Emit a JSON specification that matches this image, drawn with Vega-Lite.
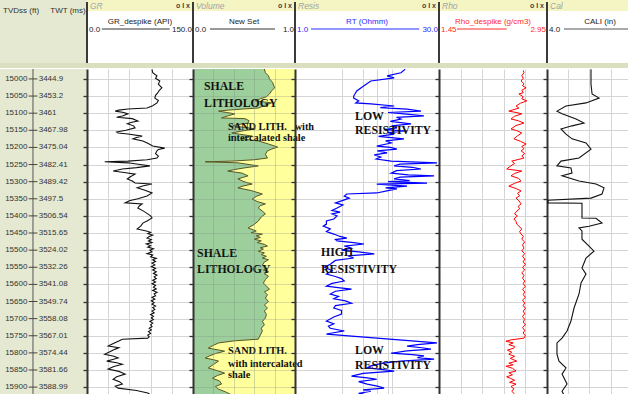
{
"$schema": "https://vega.github.io/schema/vega-lite/v6.json",
"padding": 0,
"background": "white",
"spacing": 0,
"config": {"view": {"stroke": null}, "font": "Liberation Sans", "axis": {"labels": false, "ticks": false, "domain": false, "grid": false}},
"datasets": {
"dt": [{"d":15000,"twt":"3444.9"},{"d":15050,"twt":"3453.2"},{"d":15100,"twt":"3461"},{"d":15150,"twt":"3467.98"},{"d":15200,"twt":"3475.04"},{"d":15250,"twt":"3482.41"},{"d":15300,"twt":"3489.42"},{"d":15350,"twt":"3497.5"},{"d":15400,"twt":"3506.54"},{"d":15450,"twt":"3515.65"},{"d":15500,"twt":"3524.02"},{"d":15550,"twt":"3532.26"},{"d":15600,"twt":"3541.08"},{"d":15650,"twt":"3549.74"},{"d":15700,"twt":"3558.08"},{"d":15750,"twt":"3567.01"},{"d":15800,"twt":"3574.44"},{"d":15850,"twt":"3581.66"},{"d":15900,"twt":"3588.99"}],
"gr": [{"d":14972,"v":92},{"d":14982,"v":93},{"d":14991,"v":99},{"d":14998,"v":97},{"d":15006,"v":103},{"d":15015,"v":101},{"d":15026,"v":106},{"d":15034,"v":102},{"d":15041,"v":100},{"d":15048,"v":97},{"d":15056,"v":96},{"d":15063,"v":101},{"d":15070,"v":99},{"d":15078,"v":93},{"d":15085,"v":85},{"d":15088,"v":58},{"d":15091,"v":45},{"d":15094,"v":40},{"d":15098,"v":52},{"d":15102,"v":58},{"d":15108,"v":50},{"d":15112,"v":42},{"d":15116,"v":64},{"d":15123,"v":72},{"d":15127,"v":62},{"d":15131,"v":57},{"d":15137,"v":66},{"d":15143,"v":68},{"d":15150,"v":55},{"d":15155,"v":42},{"d":15158,"v":44},{"d":15161,"v":58},{"d":15167,"v":78},{"d":15171,"v":70},{"d":15175,"v":65},{"d":15181,"v":79},{"d":15188,"v":86},{"d":15196,"v":93},{"d":15202,"v":110},{"d":15206,"v":101},{"d":15210,"v":99},{"d":15218,"v":97},{"d":15225,"v":101},{"d":15231,"v":99},{"d":15236,"v":85},{"d":15240,"v":58},{"d":15242,"v":25},{"d":15245,"v":58},{"d":15250,"v":75},{"d":15254,"v":89},{"d":15259,"v":70},{"d":15263,"v":50},{"d":15269,"v":37},{"d":15274,"v":55},{"d":15278,"v":68},{"d":15285,"v":62},{"d":15292,"v":57},{"d":15298,"v":64},{"d":15304,"v":68},{"d":15307,"v":92},{"d":15312,"v":80},{"d":15318,"v":71},{"d":15325,"v":82},{"d":15333,"v":92},{"d":15342,"v":85},{"d":15350,"v":72},{"d":15356,"v":60},{"d":15362,"v":54},{"d":15365,"v":78},{"d":15371,"v":74},{"d":15377,"v":72},{"d":15386,"v":80},{"d":15394,"v":86},{"d":15400,"v":90},{"d":15406,"v":92},{"d":15415,"v":85},{"d":15421,"v":79},{"d":15430,"v":76},{"d":15438,"v":71},{"d":15444,"v":84},{"d":15448,"v":90},{"d":15452,"v":86},{"d":15456,"v":93},{"d":15460,"v":88},{"d":15465,"v":85},{"d":15469,"v":91},{"d":15473,"v":87},{"d":15478,"v":92},{"d":15482,"v":84},{"d":15487,"v":90},{"d":15491,"v":86},{"d":15496,"v":94},{"d":15500,"v":89},{"d":15505,"v":92},{"d":15510,"v":85},{"d":15514,"v":93},{"d":15519,"v":90},{"d":15524,"v":98},{"d":15528,"v":93},{"d":15533,"v":97},{"d":15538,"v":92},{"d":15543,"v":96},{"d":15548,"v":91},{"d":15553,"v":97},{"d":15558,"v":93},{"d":15563,"v":98},{"d":15568,"v":94},{"d":15573,"v":99},{"d":15578,"v":95},{"d":15583,"v":98},{"d":15588,"v":93},{"d":15593,"v":97},{"d":15598,"v":92},{"d":15603,"v":97},{"d":15608,"v":94},{"d":15613,"v":98},{"d":15618,"v":93},{"d":15623,"v":99},{"d":15628,"v":95},{"d":15633,"v":97},{"d":15638,"v":92},{"d":15643,"v":96},{"d":15648,"v":91},{"d":15653,"v":95},{"d":15658,"v":92},{"d":15663,"v":97},{"d":15668,"v":93},{"d":15673,"v":96},{"d":15678,"v":92},{"d":15683,"v":95},{"d":15688,"v":90},{"d":15693,"v":94},{"d":15698,"v":91},{"d":15703,"v":94},{"d":15708,"v":89},{"d":15713,"v":93},{"d":15718,"v":90},{"d":15723,"v":92},{"d":15728,"v":88},{"d":15733,"v":91},{"d":15738,"v":87},{"d":15743,"v":90},{"d":15748,"v":86},{"d":15753,"v":88},{"d":15757,"v":86},{"d":15760,"v":50},{"d":15765,"v":45},{"d":15772,"v":38},{"d":15780,"v":30},{"d":15785,"v":45},{"d":15789,"v":40},{"d":15796,"v":33},{"d":15804,"v":25},{"d":15810,"v":38},{"d":15815,"v":44},{"d":15820,"v":35},{"d":15824,"v":28},{"d":15829,"v":42},{"d":15833,"v":50},{"d":15840,"v":38},{"d":15847,"v":30},{"d":15854,"v":45},{"d":15862,"v":54},{"d":15870,"v":42},{"d":15877,"v":37},{"d":15884,"v":46},{"d":15891,"v":50},{"d":15897,"v":40},{"d":15903,"v":44},{"d":15910,"v":70},{"d":15917,"v":86},{"d":15923,"v":90}],
"vol": [{"d":14971,"v":0.70},{"d":14982,"v":0.71},{"d":14991,"v":0.74},{"d":15000,"v":0.75},{"d":15010,"v":0.78},{"d":15026,"v":0.80},{"d":15035,"v":0.77},{"d":15044,"v":0.75},{"d":15052,"v":0.72},{"d":15058,"v":0.66},{"d":15064,"v":0.61},{"d":15070,"v":0.77},{"d":15078,"v":0.70},{"d":15085,"v":0.64},{"d":15088,"v":0.48},{"d":15091,"v":0.35},{"d":15094,"v":0.25},{"d":15098,"v":0.33},{"d":15102,"v":0.41},{"d":15108,"v":0.34},{"d":15114,"v":0.28},{"d":15116,"v":0.51},{"d":15122,"v":0.55},{"d":15129,"v":0.54},{"d":15133,"v":0.45},{"d":15137,"v":0.39},{"d":15142,"v":0.52},{"d":15146,"v":0.61},{"d":15152,"v":0.48},{"d":15158,"v":0.38},{"d":15162,"v":0.47},{"d":15167,"v":0.58},{"d":15171,"v":0.52},{"d":15175,"v":0.48},{"d":15181,"v":0.64},{"d":15190,"v":0.74},{"d":15199,"v":0.83},{"d":15205,"v":0.77},{"d":15210,"v":0.73},{"d":15220,"v":0.71},{"d":15231,"v":0.73},{"d":15236,"v":0.60},{"d":15240,"v":0.38},{"d":15242,"v":0.12},{"d":15245,"v":0.44},{"d":15250,"v":0.55},{"d":15254,"v":0.64},{"d":15260,"v":0.50},{"d":15265,"v":0.40},{"d":15269,"v":0.34},{"d":15275,"v":0.48},{"d":15283,"v":0.54},{"d":15292,"v":0.44},{"d":15300,"v":0.50},{"d":15307,"v":0.58},{"d":15312,"v":0.50},{"d":15318,"v":0.44},{"d":15326,"v":0.57},{"d":15336,"v":0.68},{"d":15343,"v":0.62},{"d":15351,"v":0.58},{"d":15358,"v":0.63},{"d":15365,"v":0.71},{"d":15370,"v":0.66},{"d":15377,"v":0.64},{"d":15386,"v":0.68},{"d":15394,"v":0.71},{"d":15403,"v":0.67},{"d":15415,"v":0.64},{"d":15425,"v":0.60},{"d":15435,"v":0.54},{"d":15444,"v":0.62},{"d":15449,"v":0.57},{"d":15453,"v":0.68},{"d":15458,"v":0.62},{"d":15463,"v":0.66},{"d":15468,"v":0.60},{"d":15473,"v":0.67},{"d":15478,"v":0.63},{"d":15483,"v":0.70},{"d":15488,"v":0.73},{"d":15493,"v":0.66},{"d":15497,"v":0.69},{"d":15503,"v":0.64},{"d":15508,"v":0.70},{"d":15513,"v":0.67},{"d":15518,"v":0.72},{"d":15523,"v":0.68},{"d":15528,"v":0.74},{"d":15535,"v":0.70},{"d":15544,"v":0.68},{"d":15552,"v":0.72},{"d":15558,"v":0.69},{"d":15562,"v":0.74},{"d":15569,"v":0.70},{"d":15576,"v":0.74},{"d":15586,"v":0.71},{"d":15596,"v":0.69},{"d":15605,"v":0.72},{"d":15614,"v":0.75},{"d":15622,"v":0.70},{"d":15630,"v":0.73},{"d":15640,"v":0.71},{"d":15650,"v":0.74},{"d":15660,"v":0.70},{"d":15669,"v":0.73},{"d":15678,"v":0.70},{"d":15688,"v":0.72},{"d":15698,"v":0.71},{"d":15708,"v":0.68},{"d":15718,"v":0.70},{"d":15728,"v":0.67},{"d":15736,"v":0.68},{"d":15748,"v":0.66},{"d":15760,"v":0.64},{"d":15765,"v":0.40},{"d":15771,"v":0.25},{"d":15778,"v":0.20},{"d":15786,"v":0.15},{"d":15795,"v":0.31},{"d":15802,"v":0.22},{"d":15809,"v":0.16},{"d":15815,"v":0.12},{"d":15820,"v":0.20},{"d":15824,"v":0.25},{"d":15834,"v":0.20},{"d":15844,"v":0.15},{"d":15852,"v":0.24},{"d":15859,"v":0.31},{"d":15866,"v":0.24},{"d":15874,"v":0.19},{"d":15882,"v":0.26},{"d":15891,"v":0.28},{"d":15898,"v":0.22},{"d":15906,"v":0.25},{"d":15914,"v":0.32},{"d":15923,"v":0.38}],
"rt": [{"d":14972,"v":13.5},{"d":14982,"v":12.2},{"d":14991,"v":8.8},{"d":14997,"v":10.4},{"d":15006,"v":6.0},{"d":15020,"v":5.1},{"d":15035,"v":4.3},{"d":15050,"v":4.0},{"d":15056,"v":4.0},{"d":15064,"v":4.5},{"d":15070,"v":4.2},{"d":15073,"v":6.0},{"d":15079,"v":10.4},{"d":15084,"v":7.5},{"d":15088,"v":14.1},{"d":15094,"v":19.6},{"d":15098,"v":9.0},{"d":15102,"v":13.1},{"d":15108,"v":21.0},{"d":15112,"v":11.0},{"d":15117,"v":12.2},{"d":15124,"v":9.5},{"d":15131,"v":15.5},{"d":15137,"v":9.8},{"d":15143,"v":11.1},{"d":15148,"v":8.2},{"d":15152,"v":14.1},{"d":15157,"v":9.0},{"d":15161,"v":10.4},{"d":15168,"v":7.2},{"d":15175,"v":13.1},{"d":15181,"v":8.5},{"d":15187,"v":9.7},{"d":15196,"v":6.9},{"d":15200,"v":9.5},{"d":15205,"v":11.1},{"d":15210,"v":7.0},{"d":15216,"v":8.8},{"d":15222,"v":6.5},{"d":15228,"v":7.6},{"d":15234,"v":6.8},{"d":15240,"v":9.7},{"d":15245,"v":28.6},{"d":15249,"v":12.0},{"d":15254,"v":10.4},{"d":15258,"v":16.0},{"d":15263,"v":19.6},{"d":15268,"v":11.0},{"d":15275,"v":9.7},{"d":15280,"v":14.5},{"d":15283,"v":26.7},{"d":15287,"v":12.0},{"d":15292,"v":10.4},{"d":15297,"v":15.0},{"d":15300,"v":9.0},{"d":15304,"v":22.6},{"d":15307,"v":6.9},{"d":15313,"v":14.1},{"d":15318,"v":8.5},{"d":15321,"v":11.1},{"d":15326,"v":9.0},{"d":15333,"v":6.9},{"d":15336,"v":3.4},{"d":15342,"v":3.2},{"d":15348,"v":3.6},{"d":15356,"v":3.0},{"d":15362,"v":2.6},{"d":15368,"v":3.1},{"d":15377,"v":2.7},{"d":15384,"v":2.4},{"d":15389,"v":2.9},{"d":15394,"v":2.4},{"d":15400,"v":2.7},{"d":15409,"v":2.5},{"d":15415,"v":2.1},{"d":15424,"v":2.1},{"d":15430,"v":1.95},{"d":15438,"v":2.3},{"d":15446,"v":2.1},{"d":15453,"v":2.5},{"d":15460,"v":2.9},{"d":15465,"v":3.4},{"d":15469,"v":2.6},{"d":15473,"v":2.7},{"d":15478,"v":4.0},{"d":15482,"v":5.1},{"d":15488,"v":3.2},{"d":15494,"v":3.8},{"d":15500,"v":3.0},{"d":15505,"v":4.5},{"d":15511,"v":6.5},{"d":15517,"v":3.5},{"d":15523,"v":4.0},{"d":15530,"v":2.6},{"d":15541,"v":2.3},{"d":15550,"v":2.0},{"d":15560,"v":2.4},{"d":15570,"v":2.1},{"d":15577,"v":2.6},{"d":15583,"v":3.0},{"d":15590,"v":3.2},{"d":15597,"v":2.4},{"d":15605,"v":2.1},{"d":15610,"v":2.9},{"d":15614,"v":3.8},{"d":15620,"v":2.6},{"d":15628,"v":2.3},{"d":15635,"v":2.8},{"d":15642,"v":2.5},{"d":15648,"v":3.3},{"d":15655,"v":3.8},{"d":15662,"v":2.6},{"d":15669,"v":2.5},{"d":15676,"v":3.0},{"d":15687,"v":3.0},{"d":15695,"v":2.5},{"d":15707,"v":2.1},{"d":15715,"v":2.5},{"d":15722,"v":2.2},{"d":15728,"v":2.3},{"d":15736,"v":3.2},{"d":15742,"v":2.4},{"d":15745,"v":2.1},{"d":15771,"v":28.6},{"d":15776,"v":18.0},{"d":15780,"v":14.1},{"d":15785,"v":20.0},{"d":15789,"v":24.8},{"d":15794,"v":14.0},{"d":15801,"v":9.7},{"d":15805,"v":16.0},{"d":15809,"v":21.0},{"d":15814,"v":18.0},{"d":15818,"v":26.7},{"d":15824,"v":12.2},{"d":15830,"v":8.0},{"d":15838,"v":6.0},{"d":15844,"v":5.5},{"d":15849,"v":8.0},{"d":15853,"v":10.4},{"d":15860,"v":5.0},{"d":15868,"v":3.8},{"d":15873,"v":5.5},{"d":15877,"v":6.9},{"d":15884,"v":4.5},{"d":15891,"v":5.5},{"d":15897,"v":7.0},{"d":15903,"v":8.2},{"d":15908,"v":5.0},{"d":15912,"v":6.0},{"d":15918,"v":4.5},{"d":15923,"v":5.5}],
"rho": [{"d":14975,"v":2.62},{"d":14982,"v":2.63},{"d":14990,"v":2.60},{"d":14998,"v":2.62},{"d":15006,"v":2.59},{"d":15014,"v":2.63},{"d":15020,"v":2.61},{"d":15026,"v":2.66},{"d":15033,"v":2.60},{"d":15040,"v":2.62},{"d":15044,"v":2.56},{"d":15052,"v":2.62},{"d":15058,"v":2.60},{"d":15064,"v":2.67},{"d":15071,"v":2.58},{"d":15079,"v":2.52},{"d":15085,"v":2.56},{"d":15094,"v":2.42},{"d":15098,"v":2.52},{"d":15102,"v":2.60},{"d":15109,"v":2.50},{"d":15117,"v":2.45},{"d":15122,"v":2.55},{"d":15129,"v":2.63},{"d":15136,"v":2.52},{"d":15146,"v":2.45},{"d":15151,"v":2.53},{"d":15158,"v":2.60},{"d":15166,"v":2.54},{"d":15175,"v":2.49},{"d":15182,"v":2.58},{"d":15190,"v":2.66},{"d":15197,"v":2.60},{"d":15204,"v":2.63},{"d":15210,"v":2.59},{"d":15218,"v":2.64},{"d":15225,"v":2.60},{"d":15231,"v":2.63},{"d":15240,"v":2.46},{"d":15247,"v":2.50},{"d":15255,"v":2.44},{"d":15263,"v":2.39},{"d":15269,"v":2.60},{"d":15276,"v":2.50},{"d":15283,"v":2.45},{"d":15290,"v":2.55},{"d":15298,"v":2.59},{"d":15305,"v":2.50},{"d":15313,"v":2.42},{"d":15320,"v":2.52},{"d":15327,"v":2.59},{"d":15334,"v":2.54},{"d":15341,"v":2.57},{"d":15348,"v":2.52},{"d":15356,"v":2.56},{"d":15365,"v":2.59},{"d":15372,"v":2.55},{"d":15379,"v":2.57},{"d":15386,"v":2.53},{"d":15394,"v":2.50},{"d":15400,"v":2.54},{"d":15409,"v":2.49},{"d":15416,"v":2.52},{"d":15424,"v":2.53},{"d":15430,"v":2.56},{"d":15438,"v":2.60},{"d":15446,"v":2.57},{"d":15453,"v":2.59},{"d":15460,"v":2.62},{"d":15468,"v":2.60},{"d":15476,"v":2.64},{"d":15485,"v":2.61},{"d":15494,"v":2.63},{"d":15502,"v":2.60},{"d":15510,"v":2.64},{"d":15518,"v":2.61},{"d":15526,"v":2.64},{"d":15534,"v":2.62},{"d":15542,"v":2.65},{"d":15550,"v":2.61},{"d":15558,"v":2.64},{"d":15566,"v":2.60},{"d":15574,"v":2.63},{"d":15582,"v":2.61},{"d":15590,"v":2.64},{"d":15598,"v":2.62},{"d":15606,"v":2.65},{"d":15614,"v":2.61},{"d":15622,"v":2.64},{"d":15630,"v":2.62},{"d":15638,"v":2.65},{"d":15646,"v":2.61},{"d":15654,"v":2.64},{"d":15662,"v":2.62},{"d":15670,"v":2.65},{"d":15678,"v":2.62},{"d":15686,"v":2.64},{"d":15694,"v":2.61},{"d":15702,"v":2.64},{"d":15710,"v":2.62},{"d":15718,"v":2.65},{"d":15726,"v":2.61},{"d":15734,"v":2.64},{"d":15742,"v":2.62},{"d":15750,"v":2.65},{"d":15757,"v":2.63},{"d":15762,"v":2.45},{"d":15766,"v":2.38},{"d":15771,"v":2.48},{"d":15776,"v":2.42},{"d":15781,"v":2.50},{"d":15786,"v":2.49},{"d":15792,"v":2.40},{"d":15798,"v":2.46},{"d":15804,"v":2.42},{"d":15810,"v":2.50},{"d":15816,"v":2.44},{"d":15824,"v":2.53},{"d":15830,"v":2.42},{"d":15835,"v":2.48},{"d":15839,"v":2.38},{"d":15845,"v":2.47},{"d":15853,"v":2.52},{"d":15858,"v":2.42},{"d":15864,"v":2.47},{"d":15870,"v":2.39},{"d":15874,"v":2.44},{"d":15880,"v":2.50},{"d":15886,"v":2.43},{"d":15891,"v":2.52},{"d":15898,"v":2.45},{"d":15905,"v":2.49},{"d":15912,"v":2.46},{"d":15920,"v":2.50}],
"cal": [{"d":14972,"v":8.15},{"d":14982,"v":8.15},{"d":15015,"v":8.15},{"d":15044,"v":8.25},{"d":15056,"v":8.91},{"d":15070,"v":7.68},{"d":15079,"v":5.79},{"d":15094,"v":4.94},{"d":15102,"v":5.42},{"d":15117,"v":6.74},{"d":15129,"v":7.49},{"d":15137,"v":6.36},{"d":15146,"v":5.32},{"d":15161,"v":5.79},{"d":15175,"v":6.36},{"d":15187,"v":7.68},{"d":15205,"v":8.15},{"d":15231,"v":7.02},{"d":15240,"v":5.32},{"d":15254,"v":4.94},{"d":15260,"v":6.26},{"d":15275,"v":6.36},{"d":15283,"v":5.42},{"d":15298,"v":7.02},{"d":15307,"v":8.62},{"d":15318,"v":9.38},{"d":15336,"v":9.19},{"d":15348,"v":8.15},{"d":15354,"v":4.09},{"d":15362,"v":4.09},{"d":15363,"v":7.30},{"d":15406,"v":7.30},{"d":15407,"v":8.62},{"d":15421,"v":9.19},{"d":15430,"v":7.96},{"d":15435,"v":7.02},{"d":15444,"v":7.30},{"d":15468,"v":7.30},{"d":15488,"v":7.96},{"d":15503,"v":8.43},{"d":15523,"v":7.68},{"d":15552,"v":7.30},{"d":15570,"v":7.68},{"d":15596,"v":7.21},{"d":15628,"v":7.02},{"d":15669,"v":6.55},{"d":15707,"v":6.26},{"d":15736,"v":5.89},{"d":15757,"v":5.42},{"d":15771,"v":4.94},{"d":15804,"v":4.94},{"d":15824,"v":5.13},{"d":15844,"v":5.79},{"d":15862,"v":5.42},{"d":15891,"v":5.89},{"d":15912,"v":5.42},{"d":15923,"v":5.6}],
"vbig": [{"d":15032,"v":0.108,"t":"SHALE"},{"d":15082,"v":0.108,"t":"LITHOLOGY"},{"d":15520,"v":0.04,"t":"SHALE"},{"d":15567,"v":0.04,"t":"LITHOLOGY"}],
"vsmall": [{"d":15149,"v":0.343,"t":"SAND LITH.\u00a0\u00a0 with"},{"d":15181,"v":0.343,"t":"intercalated shale"},{"d":15804,"v":0.343,"t":"SAND LITH."},{"d":15842,"v":0.343,"t":"with intercalated"},{"d":15874,"v":0.343,"t":"shale"}],
"rnotes": [{"d":15120,"v":4.13,"t":"LOW"},{"d":15161,"v":4.13,"t":"RESISTIVITY"},{"d":15517,"v":1.85,"t":"HIGH"},{"d":15567,"v":1.85,"t":"RESISTIVITY"},{"d":15804,"v":4.13,"t":"LOW"},{"d":15847,"v":4.13,"t":"RESISTIVITY"}]
},
"vconcat": [
{"hconcat": [
 {"width":87,"height":68,"data":{"values":[{}]},"layer":[
  {"mark":{"type":"rect","color":"#e5e9d1"},"encoding":{"x":{"datum":0,"type":"quantitative","scale":{"domain":[0,1],"nice":false,"zero":false}},"x2":{"datum":1},"y":{"datum":0,"type":"quantitative","scale":{"domain":[0,68],"reverse":true,"nice":false,"zero":false}},"y2":{"datum":68}}},
  {"mark":{"type":"rect","color":"#dadfbf"},"encoding":{"x":{"datum":0},"x2":{"datum":1},"y":{"datum":63},"y2":{"datum":68}}},
  {"mark":{"type":"text","align":"left","baseline":"middle","fontSize":8,"color":"#333"},"encoding":{"x":{"datum":0.035},"y":{"datum":10.5},"text":{"value":"TVDss (ft)"}}},
  {"mark":{"type":"text","align":"right","baseline":"middle","fontSize":8,"color":"#333"},"encoding":{"x":{"datum":0.985},"y":{"datum":10.5},"text":{"value":"TWT (ms)"}}}
 ]},
 {"width":106,"height":68,"data":{"values":[{}]},"layer":[
  {"mark":{"type":"rect","color":"#f5f5c4"},"encoding":{"x":{"datum":0,"type":"quantitative","scale":{"domain":[0,150],"nice":false,"zero":false}},"x2":{"datum":150},"y":{"datum":0,"type":"quantitative","scale":{"domain":[0,68],"reverse":true,"nice":false,"zero":false}},"y2":{"datum":11}}},
  {"mark":{"type":"rect","color":"#dadfbf"},"encoding":{"x":{"datum":0},"x2":{"datum":150},"y":{"datum":63},"y2":{"datum":68}}},
  {"mark":{"type":"text","align":"left","baseline":"middle","dx":3,"fontSize":8.5,"fontStyle":"italic","color":"#a3a3a3"},"encoding":{"x":{"datum":0},"y":{"datum":5.5},"text":{"value":"GR"}}},
  {"mark":{"type":"text","align":"right","baseline":"middle","dx":-3,"fontSize":7,"fontWeight":"bold","color":"#444"},"encoding":{"x":{"datum":150},"y":{"datum":5.5},"text":{"value":"o I x"}}},
  {"mark":{"type":"text","align":"center","baseline":"middle","fontSize":8,"color":"#222"},"encoding":{"x":{"datum":75},"y":{"datum":22},"text":{"value":"GR_despike (API)"}}},
  {"mark":{"type":"text","align":"left","baseline":"middle","dx":2,"fontSize":8,"color":"#222"},"encoding":{"x":{"datum":0},"y":{"datum":29.5},"text":{"value":"0.0"}}},
  {"mark":{"type":"text","align":"right","baseline":"middle","dx":-1,"fontSize":8,"color":"#222"},"encoding":{"x":{"datum":150},"y":{"datum":29.5},"text":{"value":"150.0"}}},
  {"mark":{"type":"rule","color":"#333","strokeWidth":1},"encoding":{"x":{"datum":21},"x2":{"datum":117},"y":{"datum":29}}},
  {"mark":{"type":"rule","color":"#3a3a3a","strokeWidth":2},"encoding":{"x":{"datum":0},"y":{"datum":2},"y2":{"datum":63}}}
 ]},
 {"width":102,"height":68,"data":{"values":[{}]},"layer":[
  {"mark":{"type":"rect","color":"#f5f5c4"},"encoding":{"x":{"datum":0,"type":"quantitative","scale":{"domain":[0,1],"nice":false,"zero":false}},"x2":{"datum":1},"y":{"datum":0,"type":"quantitative","scale":{"domain":[0,68],"reverse":true,"nice":false,"zero":false}},"y2":{"datum":11}}},
  {"mark":{"type":"rect","color":"#dadfbf"},"encoding":{"x":{"datum":0},"x2":{"datum":1},"y":{"datum":63},"y2":{"datum":68}}},
  {"mark":{"type":"text","align":"left","baseline":"middle","dx":3,"fontSize":8.5,"fontStyle":"italic","color":"#a3a3a3"},"encoding":{"x":{"datum":0},"y":{"datum":5.5},"text":{"value":"Volume"}}},
  {"mark":{"type":"text","align":"right","baseline":"middle","dx":-3,"fontSize":7,"fontWeight":"bold","color":"#444"},"encoding":{"x":{"datum":1},"y":{"datum":5.5},"text":{"value":"o I x"}}},
  {"mark":{"type":"text","align":"center","baseline":"middle","fontSize":8,"color":"#222"},"encoding":{"x":{"datum":0.5},"y":{"datum":22},"text":{"value":"New Set"}}},
  {"mark":{"type":"text","align":"left","baseline":"middle","dx":2,"fontSize":8,"color":"#222"},"encoding":{"x":{"datum":0},"y":{"datum":29.5},"text":{"value":"0.0"}}},
  {"mark":{"type":"text","align":"right","baseline":"middle","dx":-1,"fontSize":8,"color":"#222"},"encoding":{"x":{"datum":1},"y":{"datum":29.5},"text":{"value":"1.0"}}},
  {"mark":{"type":"rule","color":"#333","strokeWidth":1},"encoding":{"x":{"datum":0.167},"x2":{"datum":0.804},"y":{"datum":29}}},
  {"mark":{"type":"rule","color":"#3a3a3a","strokeWidth":2},"encoding":{"x":{"datum":0},"y":{"datum":2},"y2":{"datum":63}}}
 ]},
 {"width":144,"height":68,"data":{"values":[{}]},"layer":[
  {"mark":{"type":"rect","color":"#f5f5c4"},"encoding":{"x":{"datum":1,"type":"quantitative","scale":{"type":"log","domain":[1,30],"nice":false}},"x2":{"datum":30},"y":{"datum":0,"type":"quantitative","scale":{"domain":[0,68],"reverse":true,"nice":false,"zero":false}},"y2":{"datum":11}}},
  {"mark":{"type":"rect","color":"#dadfbf"},"encoding":{"x":{"datum":1},"x2":{"datum":30},"y":{"datum":63},"y2":{"datum":68}}},
  {"mark":{"type":"text","align":"left","baseline":"middle","dx":3,"fontSize":8.5,"fontStyle":"italic","color":"#a3a3a3"},"encoding":{"x":{"datum":1},"y":{"datum":5.5},"text":{"value":"Resis"}}},
  {"mark":{"type":"text","align":"right","baseline":"middle","dx":-3,"fontSize":7,"fontWeight":"bold","color":"#444"},"encoding":{"x":{"datum":30},"y":{"datum":5.5},"text":{"value":"o I x"}}},
  {"mark":{"type":"text","align":"center","baseline":"middle","fontSize":8,"color":"#2a2aff"},"encoding":{"x":{"datum":5.48},"y":{"datum":22},"text":{"value":"RT (Ohmm)"}}},
  {"mark":{"type":"text","align":"left","baseline":"middle","dx":2,"fontSize":8,"color":"#2a2aff"},"encoding":{"x":{"datum":1},"y":{"datum":29.5},"text":{"value":"1.0"}}},
  {"mark":{"type":"text","align":"right","baseline":"middle","dx":-1,"fontSize":8,"color":"#2a2aff"},"encoding":{"x":{"datum":30},"y":{"datum":29.5},"text":{"value":"30.0"}}},
  {"mark":{"type":"rule","color":"#2a2aff","strokeWidth":1},"encoding":{"x":{"datum":1.46},"x2":{"datum":18.8},"y":{"datum":29}}},
  {"mark":{"type":"rule","color":"#3a3a3a","strokeWidth":2},"encoding":{"x":{"datum":1},"y":{"datum":2},"y2":{"datum":63}}}
 ]},
 {"width":108,"height":68,"data":{"values":[{}]},"layer":[
  {"mark":{"type":"rect","color":"#f5f5c4"},"encoding":{"x":{"datum":1.45,"type":"quantitative","scale":{"domain":[1.45,2.95],"nice":false,"zero":false}},"x2":{"datum":2.95},"y":{"datum":0,"type":"quantitative","scale":{"domain":[0,68],"reverse":true,"nice":false,"zero":false}},"y2":{"datum":11}}},
  {"mark":{"type":"rect","color":"#dadfbf"},"encoding":{"x":{"datum":1.45},"x2":{"datum":2.95},"y":{"datum":63},"y2":{"datum":68}}},
  {"mark":{"type":"text","align":"left","baseline":"middle","dx":3,"fontSize":8.5,"fontStyle":"italic","color":"#a3a3a3"},"encoding":{"x":{"datum":1.45},"y":{"datum":5.5},"text":{"value":"Rho"}}},
  {"mark":{"type":"text","align":"right","baseline":"middle","dx":-3,"fontSize":7,"fontWeight":"bold","color":"#444"},"encoding":{"x":{"datum":2.95},"y":{"datum":5.5},"text":{"value":"o I x"}}},
  {"mark":{"type":"text","align":"center","baseline":"middle","fontSize":8,"color":"#ff2a2a"},"encoding":{"x":{"datum":2.2},"y":{"datum":22},"text":{"value":"Rho_despike (g/cm3)"}}},
  {"mark":{"type":"text","align":"left","baseline":"middle","dx":2,"fontSize":8,"color":"#ff2a2a"},"encoding":{"x":{"datum":1.45},"y":{"datum":29.5},"text":{"value":"1.45"}}},
  {"mark":{"type":"text","align":"right","baseline":"middle","dx":-1,"fontSize":8,"color":"#ff2a2a"},"encoding":{"x":{"datum":2.95},"y":{"datum":29.5},"text":{"value":"2.95"}}},
  {"mark":{"type":"rule","color":"#ff2a2a","strokeWidth":1},"encoding":{"x":{"datum":1.70},"x2":{"datum":2.39},"y":{"datum":29}}},
  {"mark":{"type":"rule","color":"#3a3a3a","strokeWidth":2},"encoding":{"x":{"datum":1.45},"y":{"datum":2},"y2":{"datum":63}}}
 ]},
 {"width":81,"height":68,"data":{"values":[{}]},"layer":[
  {"mark":{"type":"rect","color":"#f5f5c4"},"encoding":{"x":{"datum":4,"type":"quantitative","scale":{"domain":[4,11.64],"nice":false,"zero":false}},"x2":{"datum":11.64},"y":{"datum":0,"type":"quantitative","scale":{"domain":[0,68],"reverse":true,"nice":false,"zero":false}},"y2":{"datum":11}}},
  {"mark":{"type":"rect","color":"#dadfbf"},"encoding":{"x":{"datum":4},"x2":{"datum":11.64},"y":{"datum":63},"y2":{"datum":68}}},
  {"mark":{"type":"text","align":"left","baseline":"middle","dx":3,"fontSize":8.5,"fontStyle":"italic","color":"#a3a3a3"},"encoding":{"x":{"datum":4},"y":{"datum":5.5},"text":{"value":"Cal"}}},
  {"mark":{"type":"text","align":"center","baseline":"middle","fontSize":8,"color":"#222"},"encoding":{"x":{"datum":9.0},"y":{"datum":22},"text":{"value":"CALI (in)"}}},
  {"mark":{"type":"text","align":"left","baseline":"middle","dx":2,"fontSize":8,"color":"#222"},"encoding":{"x":{"datum":4},"y":{"datum":29.5},"text":{"value":"4.0"}}},
  {"mark":{"type":"rule","color":"#555","strokeWidth":1},"encoding":{"x":{"datum":5.6},"x2":{"datum":11.64},"y":{"datum":29}}},
  {"mark":{"type":"rule","color":"#3a3a3a","strokeWidth":2},"encoding":{"x":{"datum":4},"y":{"datum":2},"y2":{"datum":63}}}
 ]}
], "spacing": 0, "bounds": "flush"},
{"hconcat": [
 {"width":87,"height":326,"layer":[
  {"data":{"values":[{}]},"mark":{"type":"rect","color":"#e5e9d1"},"encoding":{"x":{"datum":0,"type":"quantitative","scale":{"domain":[0,1],"nice":false,"zero":false},"axis":null},"x2":{"datum":1},"y":{"datum":14971,"type":"quantitative","scale":{"domain":[14971,15923],"reverse":true,"nice":false,"zero":false},"axis":null},"y2":{"datum":15923}}},
  {"data":{"values":[{}]},"mark":{"type":"rule","color":"#555","strokeWidth":1},"encoding":{"x":{"datum":0.379,"axis":null},"y":{"datum":14971,"axis":null},"y2":{"datum":15923}}},
  {"data":{"name":"dt"},"mark":{"type":"rule","color":"#444","strokeWidth":1},"encoding":{"x":{"datum":0.33,"axis":null},"x2":{"datum":0.43},"y":{"field":"d","type":"quantitative","axis":null}}},
  {"data":{"name":"dt"},"mark":{"type":"text","align":"right","baseline":"middle","fontSize":8,"color":"#333"},"encoding":{"x":{"datum":0.315,"axis":null},"y":{"field":"d","type":"quantitative","axis":null},"text":{"field":"d","type":"quantitative","format":"d"}}},
  {"data":{"name":"dt"},"mark":{"type":"text","align":"left","baseline":"middle","fontSize":8,"color":"#333"},"encoding":{"x":{"datum":0.445,"axis":null},"y":{"field":"d","type":"quantitative","axis":null},"text":{"field":"twt","type":"nominal"}}}
 ]},
 {"width":106,"height":326,
  "encoding":{
   "x":{"field":"v","type":"quantitative","scale":{"domain":[0,150],"nice":false,"zero":false},"axis":{"orient":"top","values":[30,60,90,120],"grid":true,"gridColor":"#d4d4d4","labels":false,"ticks":false,"domain":false,"title":null}},
   "y":{"field":"d","type":"quantitative","scale":{"domain":[14971,15923],"reverse":true,"nice":false,"zero":false},"axis":{"orient":"left","values":[15000,15050,15100,15150,15200,15250,15300,15350,15400,15450,15500,15550,15600,15650,15700,15750,15800,15850,15900],"grid":true,"gridColor":"#d4d4d4","labels":false,"title":null,"ticks":true,"tickSize":4,"tickColor":"#333","tickWidth":1.3,"domain":true,"domainColor":"#333","domainWidth":2}}
  },
  "layer":[
   {"data":{"name":"gr"},"mark":{"type":"line","color":"#111","strokeWidth":1.1,"clip":true},"encoding":{"order":{"field":"d","type":"quantitative"}}}
  ]},
 {"width":102,"height":326,
  "encoding":{
   "x":{"field":"v","type":"quantitative","scale":{"domain":[0,1],"nice":false,"zero":false},"axis":{"orient":"top","values":[0.2,0.4,0.6,0.8],"grid":true,"gridColor":"#7f8f7f","gridOpacity":0.35,"labels":false,"ticks":false,"domain":false,"title":null,"zindex":1}},
   "y":{"field":"d","type":"quantitative","scale":{"domain":[14971,15923],"reverse":true,"nice":false,"zero":false},"axis":{"orient":"left","values":[15000,15050,15100,15150,15200,15250,15300,15350,15400,15450,15500,15550,15600,15650,15700,15750,15800,15850,15900],"grid":true,"gridColor":"#7f8f7f","gridOpacity":0.3,"labels":false,"title":null,"ticks":true,"tickSize":4,"tickColor":"#333","tickWidth":1.3,"domain":true,"domainColor":"#333","domainWidth":2,"zindex":1}}
  },
  "layer":[
   {"data":{"name":"vol"},"mark":{"type":"area","orient":"horizontal","color":"#ffff9c","clip":true},"encoding":{"x2":{"datum":1}}},
   {"data":{"name":"vol"},"mark":{"type":"area","orient":"horizontal","color":"#9ccf9c","clip":true},"encoding":{"x2":{"datum":0}}},
   {"data":{"name":"vol"},"mark":{"type":"line","color":"#5b5520","strokeWidth":1,"clip":true},"encoding":{"order":{"field":"d","type":"quantitative"}}},
   {"data":{"name":"vbig"},"mark":{"type":"text","align":"left","baseline":"alphabetic","font":"Liberation Serif","fontWeight":"bold","fontSize":11.8,"color":"#111"},"encoding":{"text":{"field":"t","type":"nominal"}}},
   {"data":{"name":"vsmall"},"mark":{"type":"text","align":"left","baseline":"alphabetic","font":"Liberation Serif","fontWeight":"bold","fontSize":10.3,"color":"#111"},"encoding":{"text":{"field":"t","type":"nominal"}}}
  ]},
 {"width":144,"height":326,
  "encoding":{
   "x":{"field":"v","type":"quantitative","scale":{"type":"log","domain":[1,30],"nice":false},"axis":{"orient":"top","values":[3,5,7,9,10],"grid":true,"gridColor":"#d4d4d4","labels":false,"ticks":false,"domain":false,"title":null}},
   "y":{"field":"d","type":"quantitative","scale":{"domain":[14971,15923],"reverse":true,"nice":false,"zero":false},"axis":{"orient":"left","values":[15000,15050,15100,15150,15200,15250,15300,15350,15400,15450,15500,15550,15600,15650,15700,15750,15800,15850,15900],"grid":true,"gridColor":"#d4d4d4","labels":false,"title":null,"ticks":true,"tickSize":4,"tickColor":"#333","tickWidth":1.3,"domain":true,"domainColor":"#333","domainWidth":2}}
  },
  "layer":[
   {"data":{"name":"rt"},"mark":{"type":"line","color":"#0000ff","strokeWidth":1.2,"clip":true},"encoding":{"order":{"field":"d","type":"quantitative"}}},
   {"data":{"name":"rnotes"},"mark":{"type":"text","align":"left","baseline":"alphabetic","font":"Liberation Serif","fontWeight":"bold","fontSize":11.8,"color":"#111"},"encoding":{"text":{"field":"t","type":"nominal"}}}
  ]},
 {"width":108,"height":326,
  "encoding":{
   "x":{"field":"v","type":"quantitative","scale":{"domain":[1.45,2.95],"nice":false,"zero":false},"axis":{"orient":"top","values":[1.75,2.05,2.35,2.65],"grid":true,"gridColor":"#d4d4d4","labels":false,"ticks":false,"domain":false,"title":null}},
   "y":{"field":"d","type":"quantitative","scale":{"domain":[14971,15923],"reverse":true,"nice":false,"zero":false},"axis":{"orient":"left","values":[15000,15050,15100,15150,15200,15250,15300,15350,15400,15450,15500,15550,15600,15650,15700,15750,15800,15850,15900],"grid":true,"gridColor":"#d4d4d4","labels":false,"title":null,"ticks":true,"tickSize":4,"tickColor":"#333","tickWidth":1.3,"domain":true,"domainColor":"#333","domainWidth":2}}
  },
  "layer":[
   {"data":{"name":"rho"},"mark":{"type":"line","color":"#ff0000","strokeWidth":1,"clip":true},"encoding":{"order":{"field":"d","type":"quantitative"}}}
  ]},
 {"width":81,"height":326,
  "encoding":{
   "x":{"field":"v","type":"quantitative","scale":{"domain":[4,11.64],"nice":false,"zero":false},"axis":{"orient":"top","values":[6,8,10],"grid":true,"gridColor":"#d4d4d4","labels":false,"ticks":false,"domain":false,"title":null}},
   "y":{"field":"d","type":"quantitative","scale":{"domain":[14971,15923],"reverse":true,"nice":false,"zero":false},"axis":{"orient":"left","values":[15000,15050,15100,15150,15200,15250,15300,15350,15400,15450,15500,15550,15600,15650,15700,15750,15800,15850,15900],"grid":true,"gridColor":"#d4d4d4","labels":false,"title":null,"ticks":true,"tickSize":4,"tickColor":"#333","tickWidth":1.3,"domain":true,"domainColor":"#333","domainWidth":2}}
  },
  "layer":[
   {"data":{"name":"cal"},"mark":{"type":"line","color":"#111","strokeWidth":1.1,"clip":true},"encoding":{"order":{"field":"d","type":"quantitative"}}}
  ]}
], "spacing": 0, "bounds": "flush"}
]
}
